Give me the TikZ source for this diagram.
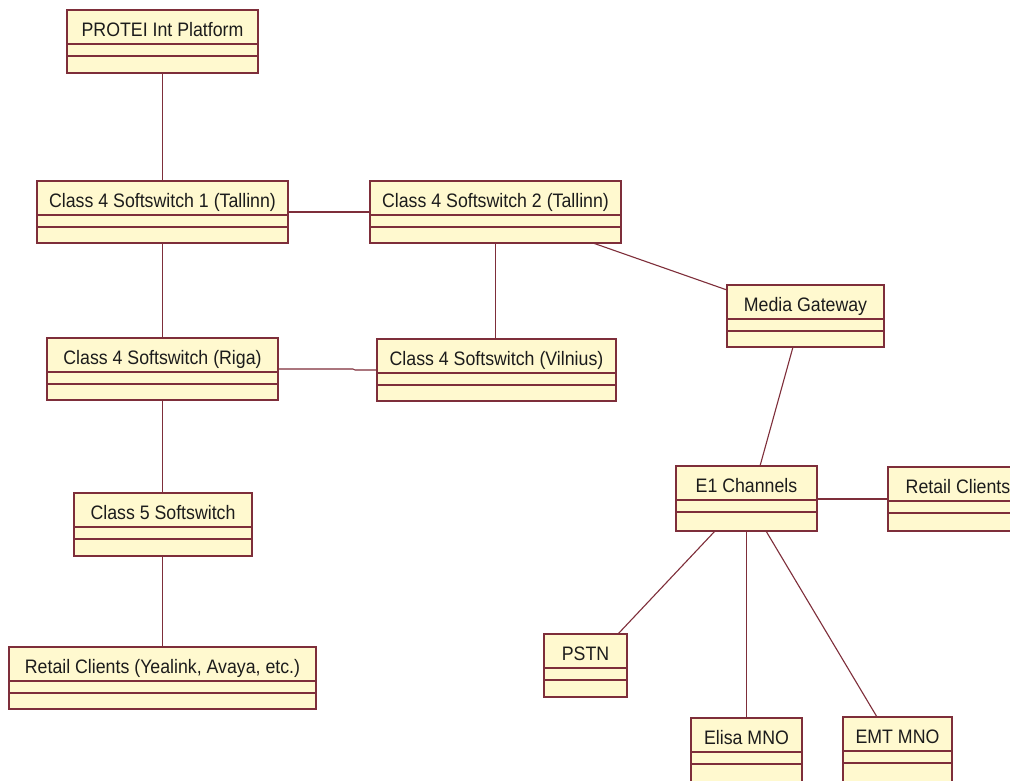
\documentclass[tikz,border=0pt]{standalone}
\usepackage{fontspec}
\setmainfont[FakeStretch=0.91]{Liberation Sans}
\usetikzlibrary{positioning}

\definecolor{umlline}{HTML}{7E2E3A}
\definecolor{umlfill}{HTML}{FFF9CF}
\definecolor{umltext}{HTML}{1C1C1C}

\tikzset{
  classbox/.style={draw=umlline, fill=umlfill, line width=1.2pt,
    rectangle, anchor=north west, inner sep=0pt, outer sep=0pt},
  compartment/.style={draw=umlline, line width=1.2pt},
  classname/.style={anchor=base, inner sep=0pt, text=umltext,
    font=\fontsize{19.5}{22}\selectfont},
  link/.style={draw=umlline, line width=1.1pt},
}

% #1 name, #2 x, #3 y (top-left), #4 width, #5 height, #6 class name
\newcommand\classbox[6]{%
  \node[classbox, minimum width=#4pt, minimum height=#5pt] (#1) at (#2,#3) {};
  \draw[compartment] ([yshift=-34pt]#1.north west) -- ([yshift=-34pt]#1.north east);
  \draw[compartment] ([yshift=-46pt]#1.north west) -- ([yshift=-46pt]#1.north east);
  \node[classname] (#1-name) at ([yshift=-26pt]#1.north) {#6};
}

\begin{document}
\begin{tikzpicture}[x=1pt, y=-1pt]
  \useasboundingbox[fill=white] (0,0) rectangle (1010,780);

  % left branch
  \classbox{protei}{67}{10}{191}{63}{PROTEI Int Platform}
  \classbox{sw1}{37}{181}{251}{62}{Class 4 Softswitch 1 (Tallinn)}
  \classbox{riga}{47}{338}{231}{62}{Class 4 Softswitch (Riga)}
  \classbox{sw5}{74}{493}{178}{63}{Class 5 Softswitch}
  \classbox{retailA}{9}{647}{307}{62}{Retail Clients (Yealink, Avaya, etc.)}

  % middle
  \classbox{sw2}{370}{181}{251}{62}{Class 4 Softswitch 2 (Tallinn)}
  \classbox{vilnius}{377}{339}{239}{62}{Class 4 Softswitch (Vilnius)}

  % right branch
  \classbox{mg}{727}{285}{157}{62}{Media Gateway}
  \classbox{e1}{676}{466}{141}{65}{E1 Channels}
  \classbox{retailB}{888}{467}{140}{64}{Retail Clients}
  \classbox{pstn}{544}{634}{83}{63}{PSTN}
  \classbox{elisa}{691}{718}{111}{70}{Elisa MNO}
  \classbox{emt}{843}{717}{109}{70}{EMT MNO}

  % associations
  \draw[link] (protei.south) -- (sw1.north);
  \draw[link] (sw1.east) -- (sw2.west);
  \draw[link] (sw1.south) -- (riga.north);
  \draw[link] (sw2.south) -- (sw2.south |- vilnius.north);
  \draw[link] ([xshift=97.5pt]sw2.south) -- ([yshift=-5pt]mg.north west);
  \draw[link] (riga.east) -- ([xshift=-24pt]vilnius.west |- riga.east)
              -- ([xshift=-22pt]vilnius.west) -- (vilnius.west);
  \draw[link] (riga.south) -- (riga.south |- sw5.north);
  \draw[link] (riga.south |- sw5.south) -- (riga.south |- retailA.north);
  \draw[link] ([xshift=-12.5pt]mg.south) -- ([xshift=13.5pt]e1.north);
  \draw[link] ([yshift=-33pt]e1.north east) -- ([yshift=-33pt]e1.north east -| retailB.west);
  \draw[link] ([xshift=-31.5pt]e1.south) -- ([xshift=32.5pt]pstn.north);
  \draw[link] (e1.south) -- (e1.south |- elisa.north);
  \draw[link] ([xshift=19.5pt]e1.south) -- ([xshift=-20.5pt]emt.north);
\end{tikzpicture}
\end{document}
